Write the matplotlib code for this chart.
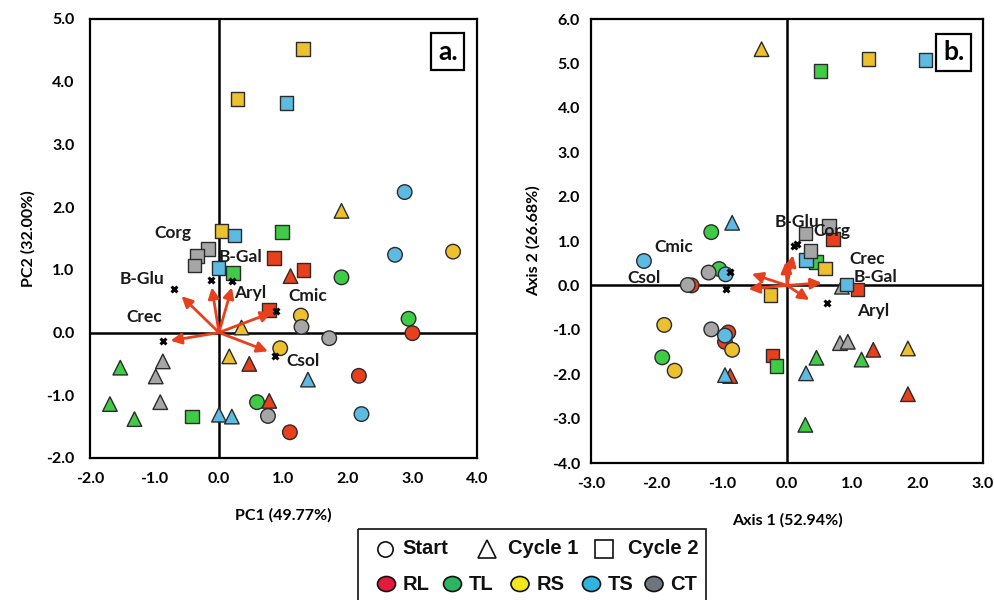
import matplotlib
matplotlib.use("Agg")
import matplotlib.pyplot as plt
from matplotlib.patches import Rectangle, Ellipse

plt.rcParams['font.family'] = ['Lato', 'DejaVu Sans']

TREATMENTS = ['RL', 'TL', 'RS', 'TS', 'CT']
PLOT_COLORS = {'RL': '#E8401C', 'TL': '#3FCB46', 'RS': '#EDC02E', 'TS': '#5DBBE3', 'CT': '#A6A6A6'}
LEGEND_COLORS = {'RL': '#E5183E', 'TL': '#2DB460', 'RS': '#F3E71C', 'TS': '#2FB4DE', 'CT': '#6E767B'}

# ---------------- Panel a (PCA) ----------------
a_start_trt = ['RL', 'RL', 'RL', 'TL', 'TL', 'TL', 'RS', 'RS', 'RS', 'TS', 'TS', 'TS', 'CT', 'CT', 'CT']
a_start_x = [3.00, 2.17, 1.10, 1.90, 2.94, 0.59, 3.63, 1.27, 0.95, 2.88, 2.73, 2.21, 1.28, 1.71, 0.76]
a_start_y = [-0.01, -0.69, -1.59, 0.88, 0.22, -1.11, 1.29, 0.27, -0.25, 2.24, 1.24, -1.30, 0.09, -0.09, -1.33]

a_c1_trt = ['RL', 'RL', 'RL', 'TL', 'TL', 'TL', 'RS', 'RS', 'RS', 'TS', 'TS', 'TS', 'CT', 'CT', 'CT']
a_c1_x = [1.11, 0.47, 0.78, -1.53, -1.69, -1.31, 1.90, 0.35, 0.16, 1.38, 0.00, 0.20, -0.87, -0.98, -0.91]
a_c1_y = [0.90, -0.50, -1.09, -0.56, -1.14, -1.38, 1.94, 0.08, -0.38, -0.75, -1.31, -1.34, -0.46, -0.70, -1.11]

a_c2_trt = ['RL', 'RL', 'RL', 'TL', 'TL', 'TL', 'RS', 'RS', 'RS', 'TS', 'TS', 'TS', 'CT', 'CT', 'CT']
a_c2_x = [0.85, 1.31, 0.78, 0.98, 0.22, -0.42, 1.30, 0.29, 0.04, 1.05, 0.24, -0.01, -0.17, -0.34, -0.38]
a_c2_y = [1.19, 1.00, 0.36, 1.60, 0.95, -1.34, 4.52, 3.72, 1.62, 3.66, 1.55, 1.03, 1.33, 1.22, 1.07]

a_arrow_x = [-0.58, -0.11, 0.20, 0.82, -0.75, 0.76]
a_arrow_y = [0.58, 0.72, 0.72, 0.32, -0.13, -0.30]
a_mark_x = [-0.70, -0.12, 0.21, 0.89, -0.86, 0.87]
a_mark_y = [0.69, 0.84, 0.82, 0.35, -0.13, -0.38]
a_var_names = ['Corg', 'B-Gal', 'B-Glu', 'Crec', 'Aryl', 'Cmic', 'Csol']
a_var_x = [-0.71, 0.33, -1.20, -1.16, 0.48, 1.38, 1.31]
a_var_y = [1.58, 1.21, 0.85, 0.24, 0.63, 0.59, -0.45]

# ---------------- Panel b ----------------
b_start_trt = ['RL', 'RL', 'RL', 'TL', 'TL', 'TL', 'RS', 'RS', 'RS', 'TS', 'TS', 'TS', 'CT', 'CT', 'CT']
b_start_x = [-1.46, -0.90, -0.95, -1.16, -1.04, -1.91, -1.88, -1.72, -0.84, -2.19, -0.94, -0.95, -1.52, -1.20, -1.16]
b_start_y = [0.00, -1.06, -1.27, 1.20, 0.37, -1.62, -0.89, -1.92, -1.45, 0.55, 0.25, -1.13, 0.01, 0.29, -0.99]

b_c1_trt = ['RL', 'RL', 'RL', 'TL', 'TL', 'TL', 'RS', 'RS', 'TS', 'TS', 'TS', 'CT', 'CT', 'CT']
b_c1_x = [-0.87, 1.32, 1.85, 0.45, 0.28, 1.14, -0.39, 1.85, -0.84, -0.95, 0.29, 0.81, 0.93, 0.84]
b_c1_y = [-2.04, -1.45, -2.45, -1.63, -3.14, -1.67, 5.32, -1.42, 1.41, -2.02, -1.98, -1.30, -1.27, -0.03]

b_c2_trt = ['RL', 'RL', 'RL', 'TL', 'TL', 'TL', 'RS', 'RS', 'RS', 'TS', 'TS', 'TS', 'CT', 'CT', 'CT']
b_c2_x = [0.70, 1.08, -0.22, 0.51, 0.44, -0.16, 1.25, 0.58, -0.25, 2.12, 0.29, 0.91, 0.28, 0.64, 0.36]
b_c2_y = [1.05, -0.09, -1.58, 4.83, 0.53, -1.82, 5.10, 0.38, -0.22, 5.08, 0.57, 0.02, 1.17, 1.34, 0.77]

b_arrow_x = [0.09, -0.02, -0.54, -0.59, 0.53, 0.34]
b_arrow_y = [0.68, 0.53, 0.26, -0.08, 0.06, -0.33]
b_mark_x = [0.15, 0.10, -0.94, 0.61, -0.87]
b_mark_y = [0.93, 0.88, -0.09, -0.40, 0.30]
b_var_names = ['B-Glu', 'Corg', 'Cmic', 'Csol', 'Crec', 'B-Gal', 'Aryl']
b_var_x = [0.15, 0.68, -1.73, -2.19, 1.22, 1.35, 1.32]
b_var_y = [1.43, 1.22, 0.86, 0.16, 0.60, 0.19, -0.57]

a_xticks = [-2.0, -1.0, 0.0, 1.0, 2.0, 3.0, 4.0]
a_yticks = [-2.0, -1.0, 0.0, 1.0, 2.0, 3.0, 4.0, 5.0]
b_xticks = [-3.0, -2.0, -1.0, 0.0, 1.0, 2.0, 3.0]
b_yticks = [-4.0, -3.0, -2.0, -1.0, 0.0, 1.0, 2.0, 3.0, 4.0, 5.0, 6.0]

ARROW_COLOR = '#E8401C'
EDGE = '#2b2b2b'

fig = plt.figure(figsize=(9.94, 6.0), dpi=100)
ax_a = fig.add_axes([0.0905, 0.2367, 0.3893, 0.7317])
ax_b = fig.add_axes([0.5946, 0.2283, 0.3944, 0.7400])


def draw_panel(ax, groups, arrows, marks, labels, xlim, ylim, xticks, yticks,
               xlabel, ylabel, tag, ypad):
    ax.set_xlim(*xlim)
    ax.set_ylim(*ylim)
    ax.axhline(0, color='black', lw=1.8, zorder=1)
    ax.axvline(0, color='black', lw=1.8, zorder=1)
    for (xs, ys, trts, marker, size) in groups:
        cols = [PLOT_COLORS[t] for t in trts]
        ax.scatter(xs, ys, c=cols, marker=marker, s=size, edgecolors=EDGE,
                   linewidths=1.0, zorder=3)
    for x, y in zip(*arrows):
        ax.annotate('', xy=(x, y), xytext=(0, 0),
                    arrowprops=dict(arrowstyle='-|>', color=ARROW_COLOR, lw=2.0,
                                    mutation_scale=16, shrinkA=0, shrinkB=0),
                    zorder=4)
    ax.scatter(marks[0], marks[1], marker='x', s=18, color='black', linewidths=2.2, zorder=5)
    for name, x, y in zip(*labels):
        ax.text(x, y, name, ha='center', va='center', fontsize=12.5, fontweight='bold',
                color='#1a1a1a', zorder=6)
    ax.set_xticks(xticks)
    ax.set_yticks(yticks)
    ax.set_xticklabels([f'{v:.1f}' for v in xticks], fontsize=11.5, fontweight='bold')
    ax.set_yticklabels([f'{v:.1f}' for v in yticks], fontsize=11.5, fontweight='bold')
    ax.tick_params(axis='both', length=0)
    ax.tick_params(axis='x', pad=10)
    ax.tick_params(axis='y', pad=ypad)
    ax.set_xlabel(xlabel, fontsize=11.5, fontweight='bold', labelpad=16)
    ax.set_ylabel(ylabel, fontsize=11.5, fontweight='bold', labelpad=8)
    for sp in ax.spines.values():
        sp.set_linewidth(1.6)
        sp.set_color('black')
    ax.text(0.925, 0.925, tag, transform=ax.transAxes, ha='center', va='center',
            fontsize=19, fontweight='bold', zorder=7,
            bbox=dict(boxstyle='square,pad=0.25', fc='none', ec='black', lw=1.6))


draw_panel(ax_a,
           [(a_start_x, a_start_y, a_start_trt, 'o', 110),
            (a_c1_x, a_c1_y, a_c1_trt, '^', 110),
            (a_c2_x, a_c2_y, a_c2_trt, 's', 95)],
           (a_arrow_x, a_arrow_y), (a_mark_x, a_mark_y),
           (a_var_names, a_var_x, a_var_y),
           (-2.0, 4.0), (-2.0, 5.0), a_xticks, a_yticks,
           'PC1 (49.77%)', 'PC2 (32.00%)', 'a.', 11)

draw_panel(ax_b,
           [(b_start_x, b_start_y, b_start_trt, 'o', 110),
            (b_c1_x, b_c1_y, b_c1_trt, '^', 110),
            (b_c2_x, b_c2_y, b_c2_trt, 's', 95)],
           (b_arrow_x, b_arrow_y), (b_mark_x, b_mark_y),
           (b_var_names, b_var_x, b_var_y),
           (-3.0, 3.0), (-4.0, 6.0), b_xticks, b_yticks,
           'Axis 1 (52.94%)', 'Axis 2 (26.68%)', 'b.', 8)

# ---------------- Legend (pixel overlay) ----------------
lax = fig.add_axes([0, 0, 1, 1], zorder=10)
lax.set_xlim(0, 994)
lax.set_ylim(600, 0)
lax.axis('off')
lax.add_patch(Rectangle((358, 529), 348, 90, fill=False, ec='#222222', lw=1.3))
lfont = dict(family=['Liberation Sans', 'DejaVu Sans'], fontsize=14.5, fontweight='bold',
             va='center', ha='left', color='#111111')
row1 = 549
lax.plot([384.5], [row1], marker='o', ms=11, mfc='white', mec='#111111', mew=1.2)
lax.text(402, row1, 'Start', **lfont)
lax.plot([486.5], [row1], marker='^', ms=13, mfc='white', mec='#111111', mew=1.2)
lax.text(508, row1, 'Cycle 1', **lfont)
lax.plot([604], [row1], marker='s', ms=12.5, mfc='white', mec='#111111', mew=1.2)
lax.text(628, row1, 'Cycle 2', **lfont)
row2 = 584
leg_x = [386.5, 452.5, 520, 591.5, 654]
for t, x in zip(TREATMENTS, leg_x):
    lax.add_patch(Ellipse((x, row2), 18, 15, fc=LEGEND_COLORS[t], ec='#111111', lw=1.2))
    lax.text(x + 16.5, row2, t, **lfont)

fig.savefig('out.png', dpi=100)
